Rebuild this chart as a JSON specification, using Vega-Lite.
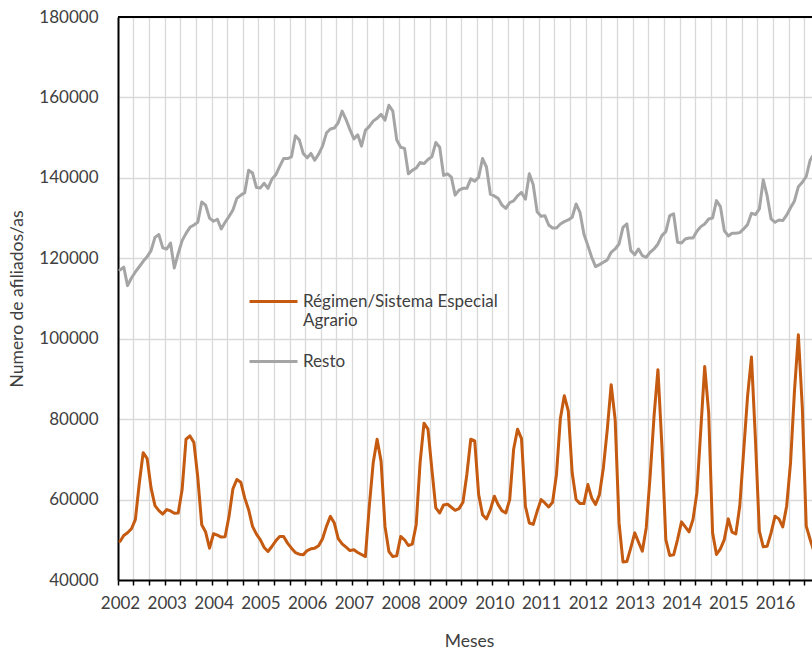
{
  "$schema": "https://vega.github.io/schema/vega-lite/v6.json",
  "width": 694,
  "height": 563,
  "autosize": {"type": "none"},
  "padding": {"left": 118, "top": 17, "right": 0, "bottom": 74},
  "background": "white",
  "config": {
    "font": "Lato",
    "view": {"stroke": null},
    "axis": {
      "labelFont": "Lato",
      "titleFont": "Lato",
      "labelFontSize": 17,
      "titleFontSize": 17.5,
      "labelColor": "#404040",
      "titleColor": "#404040",
      "titleFontWeight": "normal",
      "gridColor": "#D9D9D9",
      "gridWidth": 1.3,
      "domainColor": "black",
      "domainWidth": 2
    },
    "legend": {"labelFont": "Lato", "labelFontSize": 17, "labelColor": "#404040", "padding": 0, "labelLimit": 0}
  },
  "layer": [
    {
      "data": {
        "values": [
          {"mes": "2002-01", "agrario": 49580, "resto": 117100},
          {"mes": "2002-02", "agrario": 51080, "resto": 117800},
          {"mes": "2002-03", "agrario": 51750, "resto": 113200},
          {"mes": "2002-04", "agrario": 52750, "resto": 115100},
          {"mes": "2002-05", "agrario": 55000, "resto": 116600},
          {"mes": "2002-06", "agrario": 64000, "resto": 117900},
          {"mes": "2002-07", "agrario": 71670, "resto": 119250},
          {"mes": "2002-08", "agrario": 70170, "resto": 120400},
          {"mes": "2002-09", "agrario": 62900, "resto": 121900},
          {"mes": "2002-10", "agrario": 58500, "resto": 125200},
          {"mes": "2002-11", "agrario": 57250, "resto": 125900},
          {"mes": "2002-12", "agrario": 56400, "resto": 122600},
          {"mes": "2003-01", "agrario": 57500, "resto": 122300},
          {"mes": "2003-02", "agrario": 57170, "resto": 123800},
          {"mes": "2003-03", "agrario": 56580, "resto": 117600},
          {"mes": "2003-04", "agrario": 56670, "resto": 121200},
          {"mes": "2003-05", "agrario": 62500, "resto": 124400},
          {"mes": "2003-06", "agrario": 75000, "resto": 126200},
          {"mes": "2003-07", "agrario": 75830, "resto": 127700},
          {"mes": "2003-08", "agrario": 74170, "resto": 128300},
          {"mes": "2003-09", "agrario": 65420, "resto": 128950},
          {"mes": "2003-10", "agrario": 53750, "resto": 134000},
          {"mes": "2003-11", "agrario": 51920, "resto": 133200},
          {"mes": "2003-12", "agrario": 47920, "resto": 130000},
          {"mes": "2004-01", "agrario": 51500, "resto": 129200},
          {"mes": "2004-02", "agrario": 51170, "resto": 129700},
          {"mes": "2004-03", "agrario": 50670, "resto": 127300},
          {"mes": "2004-04", "agrario": 50750, "resto": 128950},
          {"mes": "2004-05", "agrario": 55830, "resto": 130400},
          {"mes": "2004-06", "agrario": 62670, "resto": 132000},
          {"mes": "2004-07", "agrario": 65000, "resto": 134900},
          {"mes": "2004-08", "agrario": 64330, "resto": 135700},
          {"mes": "2004-09", "agrario": 60420, "resto": 136300},
          {"mes": "2004-10", "agrario": 57500, "resto": 141900},
          {"mes": "2004-11", "agrario": 53330, "resto": 141200},
          {"mes": "2004-12", "agrario": 51420, "resto": 137600},
          {"mes": "2005-01", "agrario": 50000, "resto": 137500},
          {"mes": "2005-02", "agrario": 48080, "resto": 138650},
          {"mes": "2005-03", "agrario": 47080, "resto": 137400},
          {"mes": "2005-04", "agrario": 48330, "resto": 139660},
          {"mes": "2005-05", "agrario": 49750, "resto": 140760},
          {"mes": "2005-06", "agrario": 50830, "resto": 142870},
          {"mes": "2005-07", "agrario": 50830, "resto": 144800},
          {"mes": "2005-08", "agrario": 49170, "resto": 144800},
          {"mes": "2005-09", "agrario": 47920, "resto": 145230},
          {"mes": "2005-10", "agrario": 46830, "resto": 150460},
          {"mes": "2005-11", "agrario": 46420, "resto": 149450},
          {"mes": "2005-12", "agrario": 46250, "resto": 146080},
          {"mes": "2006-01", "agrario": 47330, "resto": 144980},
          {"mes": "2006-02", "agrario": 47750, "resto": 146080},
          {"mes": "2006-03", "agrario": 47920, "resto": 144390},
          {"mes": "2006-04", "agrario": 48500, "resto": 145900},
          {"mes": "2006-05", "agrario": 50250, "resto": 147900},
          {"mes": "2006-06", "agrario": 53330, "resto": 151140},
          {"mes": "2006-07", "agrario": 55830, "resto": 152150},
          {"mes": "2006-08", "agrario": 54170, "resto": 152400},
          {"mes": "2006-09", "agrario": 50300, "resto": 153700},
          {"mes": "2006-10", "agrario": 49000, "resto": 156600},
          {"mes": "2006-11", "agrario": 48170, "resto": 154500},
          {"mes": "2006-12", "agrario": 47330, "resto": 152000},
          {"mes": "2007-01", "agrario": 47500, "resto": 149700},
          {"mes": "2007-02", "agrario": 46830, "resto": 150700},
          {"mes": "2007-03", "agrario": 46330, "resto": 147900},
          {"mes": "2007-04", "agrario": 45830, "resto": 151800},
          {"mes": "2007-05", "agrario": 58330, "resto": 152800},
          {"mes": "2007-06", "agrario": 69170, "resto": 154100},
          {"mes": "2007-07", "agrario": 75000, "resto": 154800},
          {"mes": "2007-08", "agrario": 69500, "resto": 155800},
          {"mes": "2007-09", "agrario": 53330, "resto": 154350},
          {"mes": "2007-10", "agrario": 47080, "resto": 158060},
          {"mes": "2007-11", "agrario": 45830, "resto": 156600},
          {"mes": "2007-12", "agrario": 46000, "resto": 149450},
          {"mes": "2008-01", "agrario": 50830, "resto": 147600},
          {"mes": "2008-02", "agrario": 50000, "resto": 147340},
          {"mes": "2008-03", "agrario": 48580, "resto": 141000},
          {"mes": "2008-04", "agrario": 48920, "resto": 141860},
          {"mes": "2008-05", "agrario": 53750, "resto": 142450},
          {"mes": "2008-06", "agrario": 69170, "resto": 143800},
          {"mes": "2008-07", "agrario": 79000, "resto": 143550},
          {"mes": "2008-08", "agrario": 77500, "resto": 144560},
          {"mes": "2008-09", "agrario": 67500, "resto": 145230},
          {"mes": "2008-10", "agrario": 57920, "resto": 148780},
          {"mes": "2008-11", "agrario": 56670, "resto": 147600},
          {"mes": "2008-12", "agrario": 58670, "resto": 140600},
          {"mes": "2009-01", "agrario": 58830, "resto": 141000},
          {"mes": "2009-02", "agrario": 58080, "resto": 140170},
          {"mes": "2009-03", "agrario": 57330, "resto": 135700},
          {"mes": "2009-04", "agrario": 57750, "resto": 136960},
          {"mes": "2009-05", "agrario": 59330, "resto": 137400},
          {"mes": "2009-06", "agrario": 66250, "resto": 137400},
          {"mes": "2009-07", "agrario": 75000, "resto": 139750},
          {"mes": "2009-08", "agrario": 74580, "resto": 139150},
          {"mes": "2009-09", "agrario": 61250, "resto": 140170},
          {"mes": "2009-10", "agrario": 56250, "resto": 144800},
          {"mes": "2009-11", "agrario": 55170, "resto": 142700},
          {"mes": "2009-12", "agrario": 57500, "resto": 135950},
          {"mes": "2010-01", "agrario": 60830, "resto": 135500},
          {"mes": "2010-02", "agrario": 58750, "resto": 134900},
          {"mes": "2010-03", "agrario": 57250, "resto": 133250},
          {"mes": "2010-04", "agrario": 56670, "resto": 132400},
          {"mes": "2010-05", "agrario": 60000, "resto": 133840},
          {"mes": "2010-06", "agrario": 72500, "resto": 134260},
          {"mes": "2010-07", "agrario": 77500, "resto": 135530},
          {"mes": "2010-08", "agrario": 75170, "resto": 136370},
          {"mes": "2010-09", "agrario": 58330, "resto": 134700},
          {"mes": "2010-10", "agrario": 54170, "resto": 141000},
          {"mes": "2010-11", "agrario": 53830, "resto": 138300},
          {"mes": "2010-12", "agrario": 57080, "resto": 131560},
          {"mes": "2011-01", "agrario": 60000, "resto": 130460},
          {"mes": "2011-02", "agrario": 59170, "resto": 130600},
          {"mes": "2011-03", "agrario": 58170, "resto": 128290},
          {"mes": "2011-04", "agrario": 59330, "resto": 127540},
          {"mes": "2011-05", "agrario": 66250, "resto": 127540},
          {"mes": "2011-06", "agrario": 80170, "resto": 128540},
          {"mes": "2011-07", "agrario": 85830, "resto": 129120},
          {"mes": "2011-08", "agrario": 82080, "resto": 129530},
          {"mes": "2011-09", "agrario": 66670, "resto": 130200},
          {"mes": "2011-10", "agrario": 60000, "resto": 133510},
          {"mes": "2011-11", "agrario": 59000, "resto": 131440},
          {"mes": "2011-12", "agrario": 59000, "resto": 126050},
          {"mes": "2012-01", "agrario": 63730, "resto": 123150},
          {"mes": "2012-02", "agrario": 60410, "resto": 120250},
          {"mes": "2012-03", "agrario": 58760, "resto": 117930},
          {"mes": "2012-04", "agrario": 61240, "resto": 118420},
          {"mes": "2012-05", "agrario": 67870, "resto": 119000},
          {"mes": "2012-06", "agrario": 77390, "resto": 119590},
          {"mes": "2012-07", "agrario": 88570, "resto": 121490},
          {"mes": "2012-08", "agrario": 79870, "resto": 122320},
          {"mes": "2012-09", "agrario": 54200, "resto": 123560},
          {"mes": "2012-10", "agrario": 44500, "resto": 127700},
          {"mes": "2012-11", "agrario": 44600, "resto": 128540},
          {"mes": "2012-12", "agrario": 48000, "resto": 121900},
          {"mes": "2013-01", "agrario": 51720, "resto": 120910},
          {"mes": "2013-02", "agrario": 49400, "resto": 122320},
          {"mes": "2013-03", "agrario": 47170, "resto": 120660},
          {"mes": "2013-04", "agrario": 52960, "resto": 120250},
          {"mes": "2013-05", "agrario": 65800, "resto": 121490},
          {"mes": "2013-06", "agrario": 80700, "resto": 122320},
          {"mes": "2013-07", "agrario": 92300, "resto": 123560},
          {"mes": "2013-08", "agrario": 73250, "resto": 125640},
          {"mes": "2013-09", "agrario": 50060, "resto": 126630},
          {"mes": "2013-10", "agrario": 46090, "resto": 130600},
          {"mes": "2013-11", "agrario": 46250, "resto": 131030},
          {"mes": "2013-12", "agrario": 50060, "resto": 123980},
          {"mes": "2014-01", "agrario": 54450, "resto": 123810},
          {"mes": "2014-02", "agrario": 53210, "resto": 124810},
          {"mes": "2014-03", "agrario": 51970, "resto": 125060},
          {"mes": "2014-04", "agrario": 55030, "resto": 125060},
          {"mes": "2014-05", "agrario": 61660, "resto": 126710},
          {"mes": "2014-06", "agrario": 77390, "resto": 127870},
          {"mes": "2014-07", "agrario": 93120, "resto": 128540},
          {"mes": "2014-08", "agrario": 81530, "resto": 129780},
          {"mes": "2014-09", "agrario": 51720, "resto": 130030},
          {"mes": "2014-10", "agrario": 46340, "resto": 134340},
          {"mes": "2014-11", "agrario": 47750, "resto": 132850},
          {"mes": "2014-12", "agrario": 50060, "resto": 126880},
          {"mes": "2015-01", "agrario": 55200, "resto": 125550},
          {"mes": "2015-02", "agrario": 51890, "resto": 126220},
          {"mes": "2015-03", "agrario": 51470, "resto": 126220},
          {"mes": "2015-04", "agrario": 58340, "resto": 126380},
          {"mes": "2015-05", "agrario": 72000, "resto": 127300},
          {"mes": "2015-06", "agrario": 85670, "resto": 128370},
          {"mes": "2015-07", "agrario": 95440, "resto": 131190},
          {"mes": "2015-08", "agrario": 74900, "resto": 130860},
          {"mes": "2015-09", "agrario": 52130, "resto": 132270},
          {"mes": "2015-10", "agrario": 48240, "resto": 139500},
          {"mes": "2015-11", "agrario": 48410, "resto": 135500},
          {"mes": "2015-12", "agrario": 51720, "resto": 129800},
          {"mes": "2016-01", "agrario": 55860, "resto": 128950},
          {"mes": "2016-02", "agrario": 55200, "resto": 129530},
          {"mes": "2016-03", "agrario": 53210, "resto": 129370},
          {"mes": "2016-04", "agrario": 58340, "resto": 130720},
          {"mes": "2016-05", "agrario": 69110, "resto": 132570},
          {"mes": "2016-06", "agrario": 86910, "resto": 134260},
          {"mes": "2016-07", "agrario": 100990, "resto": 137800},
          {"mes": "2016-08", "agrario": 82770, "resto": 138900},
          {"mes": "2016-09", "agrario": 53380, "resto": 140340},
          {"mes": "2016-10", "agrario": 50060, "resto": 144390},
          {"mes": "2016-11", "agrario": 47000, "resto": 146000}
        ]
      },
      "transform": [{"fold": ["agrario", "resto"], "as": ["serie", "valor"]}],
      "mark": {"type": "line", "strokeWidth": 3, "strokeJoin": "round", "strokeCap": "round", "clip": true},
      "encoding": {
        "x": {
          "field": "mes",
          "timeUnit": "utcyearmonth",
          "type": "temporal",
          "bandPosition": 0.5,
          "scale": {"domain": [{"year": 2002, "month": 1, "date": 1, "utc": true}, {"year": 2016, "month": 10, "date": 31, "utc": true}]},
          "axis": {
            "title": "Meses",
            "titleX": 351,
            "titlePadding": 21,
            "tickCount": {"interval": "month", "step": 4},
            "labelExpr": "utcmonth(datum.value) === 0 ? utcFormat(datum.value, '%Y') : ''",
            "labelOffset": 2,
            "labelOverlap": false,
            "labelFlush": false,
            "labelPadding": 10,
            "grid": true,
            "ticks": true,
            "tickColor": "black",
            "tickWidth": 1.5,
            "tickSize": 5
          }
        },
        "y": {
          "field": "valor",
          "type": "quantitative",
          "scale": {"domain": [40000, 180000], "nice": false},
          "axis": {
            "title": "Numero de afiliados/as",
            "values": [40000, 60000, 80000, 100000, 120000, 140000, 160000, 180000],
            "format": "d",
            "ticks": false,
            "labelPadding": 20,
            "titlePadding": 12,
            "grid": true
          }
        },
        "color": {
          "field": "serie",
          "type": "nominal",
          "scale": {"domain": ["agrario", "resto"], "range": ["#C55A11", "#A5A5A5"]},
          "legend": {
            "title": null,
            "orient": "none",
            "legendX": 130,
            "legendY": 259,
            "symbolType": "stroke",
            "symbolSize": 2304,
            "symbolStrokeWidth": 3,
            "labelExpr": "datum.value === 'agrario' ? ['Régimen/Sistema Especial', 'Agrario'] : 'Resto'",
            "labelBaseline": "middle",
            "labelOffset": 4,
            "labelLimit": 0,
            "rowPadding": 7
          }
        }
      }
    },
    {
      "data": {"values": [{"borde": 180000}]},
      "mark": {"type": "rule", "color": "black", "strokeWidth": 2},
      "encoding": {"y": {"field": "borde", "type": "quantitative"}}
    }
  ]
}
